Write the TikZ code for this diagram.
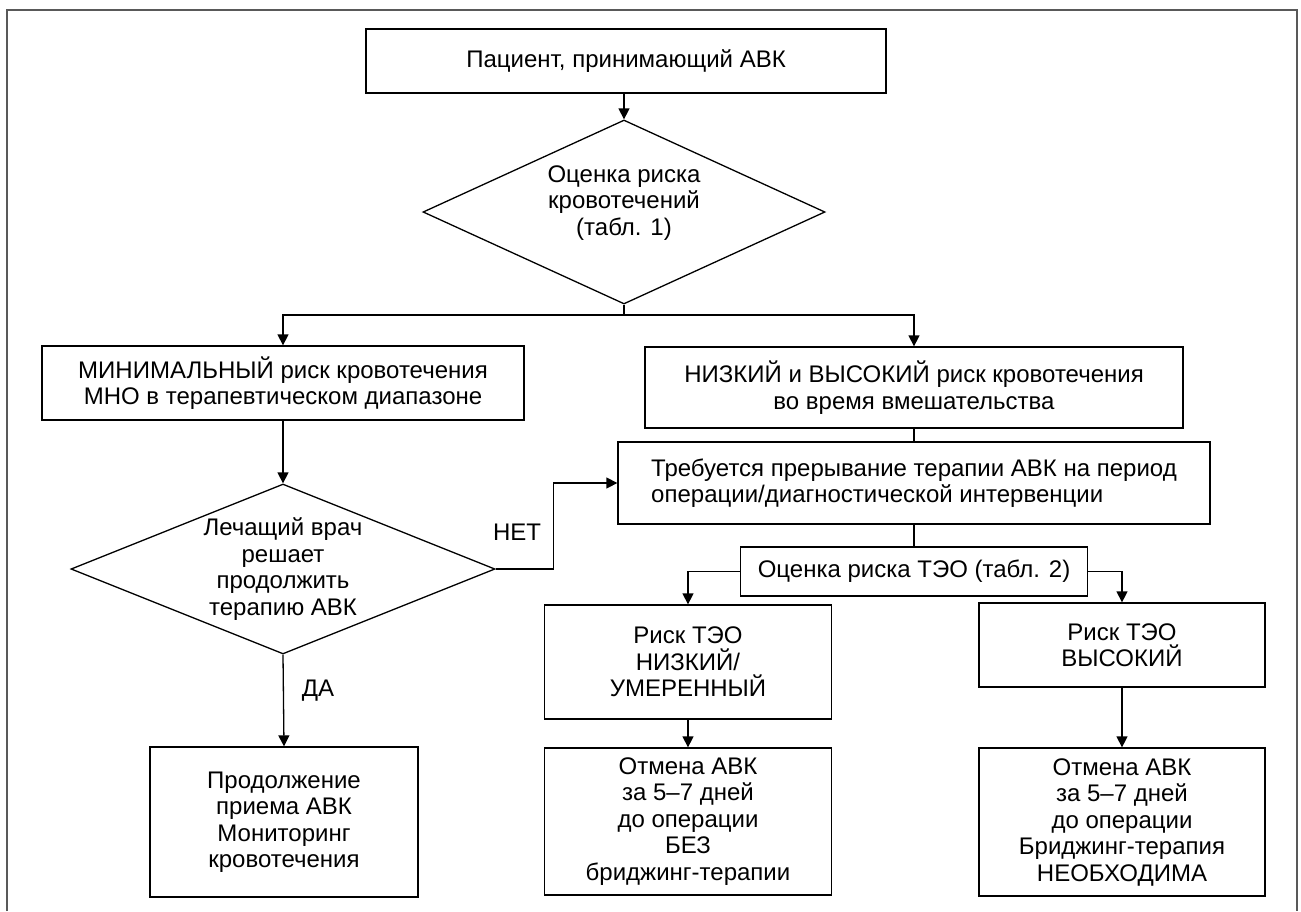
\documentclass[tikz,border=0pt]{standalone}
\usepackage{fontspec}
\setmainfont{Liberation Sans}
\usetikzlibrary{shapes.geometric,arrows.meta}
\begin{document}
\begin{tikzpicture}[x=1pt,y=-1pt,
  every node/.style={font=\fontsize{24}{26.5}\selectfont, inner sep=0pt},
  box/.style={draw, line width=1.3pt, align=center},
  dia/.style={draw, line width=1.3pt, diamond},
  txt/.style={align=center},
  lnk/.style={line width=1.3pt},
  arr/.style={line width=1.3pt, -{Triangle[width=11pt,length=11pt]}},
  frame/.style={line width=2.5pt, black!65}]
\useasboundingbox (0,0) rectangle (1301,911);
\draw[frame] (7,911) -- (7,10) -- (1297,10) -- (1297,911);

\node[box, minimum width=520, minimum height=64] (top) at (626,61) {Пациент, принимающий АВК};
\node[dia, shape aspect=2.19, minimum width=402, minimum height=184] (d1) at (624,212) {};
\node[txt] (d1t) at (624,203) {Оценка риска\\кровотечений\\(табл. 1)};
\coordinate (s) at (624,315);

\node[box, minimum width=482, minimum height=74] (min) at (283,383) {МИНИМАЛЬНЫЙ риск кровотечения\\МНО в терапевтическом диапазоне};
\node[box, minimum width=538, minimum height=81] (niz) at (914,387.5) {НИЗКИЙ и ВЫСОКИЙ риск кровотечения\\во время вмешательства};
\node[box, minimum width=592, minimum height=82, align=left] (treb) at (914,483) {Требуется прерывание терапии АВК на период\\операции/диагностической интервенции};
\node[box, minimum width=347, minimum height=49] (teo) at (914,571.5) {Оценка риска ТЭО (табл. 2)};

\node[dia, shape aspect=2.5, minimum width=424, minimum height=170] (d2) at (283,569) {};
\node[txt] (d2t) at (283,569) {Лечащий врач\\решает\\продолжить\\терапию АВК};

\node[box, minimum width=287, minimum height=114] (r1) at (688,662) {Риск ТЭО\\НИЗКИЙ/\\УМЕРЕННЫЙ};
\node[box, minimum width=286, minimum height=84] (r2) at (1122,645) {Риск ТЭО\\ВЫСОКИЙ};
\node[box, minimum width=287, minimum height=147] (o1) at (688,821.5) {Отмена АВК\\за 5–7 дней\\до операции\\БЕЗ\\бриджинг-терапии};
\node[box, minimum width=286, minimum height=148] (o2) at (1122,822) {Отмена АВК\\за 5–7 дней\\до операции\\Бриджинг-терапия\\НЕОБХОДИМА};
\node[box, minimum width=268, minimum height=150] (cont) at (284,822) {Продолжение\\приема АВК\\Мониторинг\\кровотечения};

\node (net) at (517,532) {НЕТ};
\node (da) at (318,691) {ДА};

\draw[arr] (top.south -| d1.north) -- (d1.north);
\draw[lnk] (d1.south) -- (s);
\draw[arr] (s) -| (min.north);
\draw[arr] (s) -| (niz.north);
\draw[arr] (min.south) -- (d2.north);
\draw[lnk] (niz.south) -- (treb.north);
\draw[lnk] (treb.south) -- (teo.north);
\draw[arr] (teo.west) -| (r1.north);
\draw[arr] (teo.east) -| (r2.north);
\draw[arr] (r1.south) -- (o1.north);
\draw[arr] (r2.south) -- (o2.north);
\draw[arr] (d2.east) -- ++(58,0) |- (treb.west);
\draw[arr] (d2.south) -- (cont.north);
\end{tikzpicture}
\end{document}
